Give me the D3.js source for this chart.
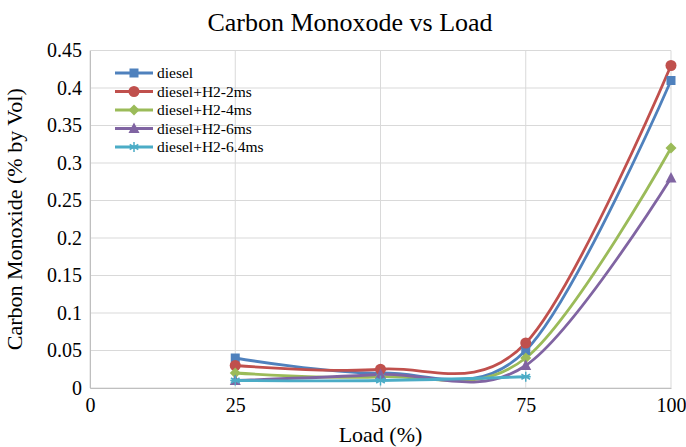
<!DOCTYPE html>
<html>
<head>
<meta charset="utf-8">
<script src="https://cdn.jsdelivr.net/npm/d3@7"></script>
<style>
  html, body { margin: 0; padding: 0; background: #fff; }
  svg { display: block; font-family: "Liberation Serif", "Times New Roman", serif; }
</style>
</head>
<body>
<svg id="chart" width="686" height="447"></svg>
<script>
// Engine load (%) on the x axis
const loads = [25, 50, 75, 100];

// CO emission (% by volume) per fuel setting
const diesel   = [0.04, 0.02, 0.05, 0.41];
const h2_2ms   = [0.03, 0.025, 0.06, 0.43];
const h2_4ms   = [0.02, 0.015, 0.04, 0.32];
const h2_6ms   = [0.01, 0.018, 0.03, 0.28];
const h2_6_4ms = [0.01, 0.01, 0.015, null];

const seriesNames = ["diesel", "diesel+H2-2ms", "diesel+H2-4ms", "diesel+H2-6ms", "diesel+H2-6.4ms"];
const seriesValues = [diesel, h2_2ms, h2_4ms, h2_6ms, h2_6_4ms];
const seriesColors = ["#4f81bd", "#c0504d", "#9bbb59", "#8064a2", "#4bacc6"];
const seriesMarkers = ["square", "circle", "diamond", "triangle", "star"];

const xTicks = [0, 25, 50, 75, 100];
const yTicks = [0, 0.05, 0.1, 0.15, 0.2, 0.25, 0.3, 0.35, 0.4, 0.45];

const svg = d3.select("#chart");
const margin = { left: 90, right: 15, top: 50.5, bottom: 59 };
const W = 686, H = 447;
const serif = "Liberation Serif, Times New Roman, serif";

const x = d3.scaleLinear().domain([0, 100]).range([margin.left, W - margin.right]);
const y = d3.scaleLinear().domain([0, 0.45]).range([H - margin.bottom, margin.top]);

// Grid lines
const grid = svg.append("g");
grid.selectAll(".hg").data(yTicks).join("line")
  .attr("x1", x(0)).attr("x2", x(100))
  .attr("y1", d => y(d)).attr("y2", d => y(d))
  .attr("stroke", "#d9d9d9").attr("stroke-width", 1);
grid.selectAll(".vg").data(xTicks).join("line")
  .attr("x1", d => x(d)).attr("x2", d => x(d))
  .attr("y1", y(0)).attr("y2", y(0.45))
  .attr("stroke", "#d9d9d9").attr("stroke-width", 1);

// Axes
const xAxis = d3.axisBottom(x).tickValues(xTicks).tickSize(0).tickPadding(10).tickFormat(d3.format("d"));
const yAxis = d3.axisLeft(y).tickValues(yTicks).tickSize(0).tickPadding(8).tickFormat(d => d === 0 ? "0" : String(+d.toFixed(2)));

const gx = svg.append("g").attr("transform", `translate(0,${y(0)})`).call(xAxis);
gx.attr("font-family", serif);
gx.select(".domain").attr("stroke", "#bfbfbf");
gx.selectAll("text").attr("font-size", 20).attr("fill", "#000");

const gy = svg.append("g").attr("transform", `translate(${x(0)},0)`).call(yAxis);
gy.attr("font-family", serif);
gy.select(".domain").attr("stroke", "#bfbfbf");
gy.selectAll("text").attr("font-size", 20).attr("fill", "#000");

// Titles
svg.append("text").attr("x", 350).attr("y", 31).attr("text-anchor", "middle")
  .attr("font-size", 26).text("Carbon Monoxode vs Load");
svg.append("text").attr("x", x(50)).attr("y", 442).attr("text-anchor", "middle")
  .attr("font-size", 22).text("Load (%)");
svg.append("text").attr("transform", `translate(22,${(y(0) + y(0.45)) / 2}) rotate(-90)`)
  .attr("text-anchor", "middle").attr("font-size", 22).text("Carbon Monoxide (% by Vol)");

// Marker drawing
function drawMarker(g, type, color, cx, cy) {
  if (type === "square") {
    g.append("rect").attr("x", cx - 4.5).attr("y", cy - 4.5).attr("width", 9).attr("height", 9).attr("fill", color);
  } else if (type === "circle") {
    g.append("circle").attr("cx", cx).attr("cy", cy).attr("r", 5.5).attr("fill", color);
  } else if (type === "diamond") {
    g.append("path").attr("d", `M${cx},${cy - 5.5}L${cx + 5.5},${cy}L${cx},${cy + 5.5}L${cx - 5.5},${cy}Z`).attr("fill", color);
  } else if (type === "triangle") {
    g.append("path").attr("d", `M${cx},${cy - 6}L${cx + 5.5},${cy + 4.5}L${cx - 5.5},${cy + 4.5}Z`).attr("fill", color);
  } else if (type === "star") {
    const r = 5;
    const d = [0, 60, 120].map(a => {
      const t = a * Math.PI / 180;
      return `M${cx - r * Math.sin(t)},${cy - r * Math.cos(t)}L${cx + r * Math.sin(t)},${cy + r * Math.cos(t)}`;
    }).join("") + `M${cx - r},${cy}L${cx + r},${cy}`;
    g.append("path").attr("d", d).attr("stroke", color).attr("stroke-width", 1.5).attr("fill", "none");
  }
}

// Smoothed series lines (Catmull-Rom through each point)
const line = d3.line()
  .x(d => x(d[0])).y(d => y(d[1]))
  .curve(d3.curveCardinal.tension(0));

const plot = svg.append("g");
seriesValues.forEach((vals, i) => {
  const pts = loads.map((l, j) => [l, vals[j]]).filter(p => p[1] !== null);
  plot.append("path").datum(pts).attr("d", line)
    .attr("fill", "none").attr("stroke", seriesColors[i]).attr("stroke-width", 2.8)
    .attr("stroke-linejoin", "round");
});
seriesValues.forEach((vals, i) => {
  const g = plot.append("g");
  loads.forEach((l, j) => {
    if (vals[j] !== null) drawMarker(g, seriesMarkers[i], seriesColors[i], x(l), y(vals[j]));
  });
});

// Legend
const legend = svg.append("g").attr("transform", "translate(115,73)");
seriesNames.forEach((name, i) => {
  const g = legend.append("g").attr("transform", `translate(0,${i * 18.5})`);
  g.append("line").attr("x1", 0).attr("x2", 38).attr("y1", 0).attr("y2", 0)
    .attr("stroke", seriesColors[i]).attr("stroke-width", 2.8);
  drawMarker(g, seriesMarkers[i], seriesColors[i], 19, 0);
  g.append("text").attr("x", 42).attr("y", 5).attr("font-size", 15.5).text(name);
});
</script>
</body>
</html>
